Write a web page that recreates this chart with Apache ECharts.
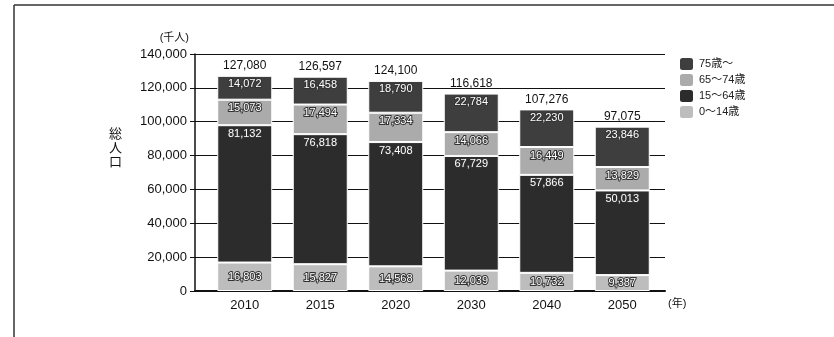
<!DOCTYPE html>
<html>
<head>
<meta charset="utf-8">
<script src="https://cdn.jsdelivr.net/npm/echarts@6/dist/echarts.min.js"></script>
<style>
html,body{margin:0;padding:0;background:#fff;}
#main{width:834px;height:337px;}
</style>
</head>
<body>
<div id="main"></div>
<script>
// 年ごとの人口（千人）
var years = ['2010', '2015', '2020', '2030', '2040', '2050'];
var age0_14 = [16803, 15827, 14568, 12039, 10732, 9387];
var age15_64 = [81132, 76818, 73408, 67729, 57866, 50013];
var age65_74 = [15073, 17494, 17334, 14066, 16449, 13829];
var age75 = [14072, 16458, 18790, 22784, 22230, 23846];
var totals = [127080, 126597, 124100, 116618, 107276, 97075];
var yTicks = [0, 20000, 40000, 60000, 80000, 100000, 120000, 140000];

var names = ['75歳〜', '65〜74歳', '15〜64歳', '0〜14歳'];
var font = '"Liberation Sans", "Noto Sans CJK JP", sans-serif';

function fmt(v){
	return v.toLocaleString('en-US');
}

function segLabel(pos){
	return {
		show: true,
		position: pos,
		distance: 3,
		color: '#fff',
		fontSize: 11,
		fontFamily: font,
		textBorderColor: '#333',
		textBorderWidth: 2,
		formatter: function(p){ return fmt(p.value); }
	};
}

var myChart = echarts.init(document.getElementById('main'));
var option = {
	backgroundColor: '#fff',
	animation: false,
	textStyle: {fontFamily: font},
	legend: {
		orient: 'vertical',
		left: 678,
		top: 56,
		padding: 0,
		itemWidth: 15,
		itemHeight: 14,
		itemGap: 0,
		textStyle: {fontSize: 11, lineHeight: 14, color: '#222', fontFamily: font},
		data: names
	},
	grid: [
		{left: 195, right: 169, top: 54, bottom: 46},
		{left: 207, right: 174, top: 54, bottom: 46}
	],
	xAxis: [
		{
			gridIndex: 0,
			type: 'value',
			min: 0,
			max: 1,
			axisLine: {show: true, onZero: false, lineStyle: {color: '#111', width: 2}},
			axisTick: {show: false},
			axisLabel: {show: false},
			splitLine: {show: false}
		},
		{
			gridIndex: 1,
			type: 'category',
			data: years,
			axisLine: {show: false},
			axisTick: {show: false},
			axisLabel: {color: '#111', fontSize: 13, margin: 8},
			name: '(年)',
			nameLocation: 'end',
			nameGap: 8,
			nameTextStyle: {color: '#111', fontSize: 11, verticalAlign: 'top', padding: [7, 0, 0, 0]}
		}
	],
	yAxis: [
		{
			gridIndex: 0,
			type: 'value',
			min: 0,
			max: 140000,
			interval: 20000,
			name: '(千人)',
			nameLocation: 'end',
			nameGap: 11,
			nameTextStyle: {color: '#111', fontSize: 11, align: 'right', padding: [0, 6, 0, 0]},
			axisLine: {show: true, lineStyle: {color: '#111', width: 1.5}},
			axisTick: {show: true, length: 5, lineStyle: {color: '#111'}},
			axisLabel: {color: '#111', fontSize: 13, margin: 8, formatter: function(v){ return fmt(v); }},
			splitLine: {show: true, lineStyle: {color: '#111', width: 1}}
		},
		{
			gridIndex: 1,
			type: 'value',
			min: 0,
			max: 140000,
			interval: 20000,
			show: false,
			splitLine: {show: false}
		}
	],
	series: [
		{
			name: names[3], type: 'bar', stack: 'pop', xAxisIndex: 1, yAxisIndex: 1,
			barWidth: 55, data: age0_14,
			itemStyle: {color: '#bdbdbd', borderColor: '#fff', borderWidth: 1},
			label: segLabel('inside')
		},
		{
			name: names[2], type: 'bar', stack: 'pop', xAxisIndex: 1, yAxisIndex: 1,
			barWidth: 55, data: age15_64,
			itemStyle: {color: '#2c2c2c', borderColor: '#fff', borderWidth: 1},
			label: segLabel('insideTop')
		},
		{
			name: names[1], type: 'bar', stack: 'pop', xAxisIndex: 1, yAxisIndex: 1,
			barWidth: 55, data: age65_74,
			itemStyle: {color: '#ababab', borderColor: '#fff', borderWidth: 1},
			label: segLabel('insideTop')
		},
		{
			name: names[0], type: 'bar', stack: 'pop', xAxisIndex: 1, yAxisIndex: 1,
			barWidth: 55, data: age75,
			itemStyle: {color: '#3e3e3e', borderColor: '#fff', borderWidth: 1},
			label: segLabel('insideTop')
		},
		{
			// 合計ラベル用（高さ0）
			name: 'total', type: 'bar', stack: 'pop', xAxisIndex: 1, yAxisIndex: 1,
			barWidth: 55, data: totals.map(function(){ return 0; }),
			itemStyle: {color: 'transparent'},
			label: {
				show: true, position: 'top', distance: 4,
				color: '#111', fontSize: 12, fontFamily: font,
				formatter: function(p){ return fmt(totals[p.dataIndex]); }
			}
		}
	],
	graphic: [
		{type: 'line', shape: {x1: 14, y1: 5, x2: 834, y2: 5}, style: {stroke: '#333', lineWidth: 1.5}},
		{type: 'line', shape: {x1: 14, y1: 5, x2: 14, y2: 337}, style: {stroke: '#333', lineWidth: 1.5}},
		{
			type: 'text', left: 109, top: 126,
			style: {text: '総\n人\n口', fontSize: 13, lineHeight: 14, fill: '#111', fontFamily: '"Noto Sans CJK JP", sans-serif'}
		}
	]
};
myChart.setOption(option);
window.onresize = myChart.resize;
</script>
</body>
</html>
